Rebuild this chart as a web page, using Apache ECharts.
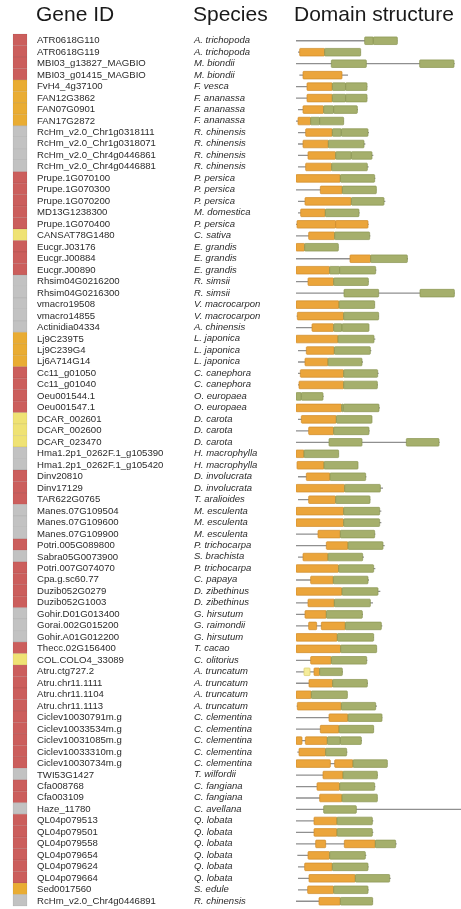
<!DOCTYPE html>
<html>
<head>
<meta charset="utf-8">
<script src="https://cdn.jsdelivr.net/npm/echarts@6/dist/echarts.min.js"></script>
<style>
  html, body { margin: 0; padding: 0; background: #fff; }
  #chart { width: 461px; height: 909px; }
</style>
</head>
<body>
<div id="chart"></div>
<script>
// Gene identifiers, top to bottom
const geneIds = [
  'ATR0618G110', 'ATR0618G119', 'MBI03_g13827_MAGBIO', 'MBI03_g01415_MAGBIO',
  'FvH4_4g37100', 'FAN12G3862', 'FAN07G0901', 'FAN17G2872',
  'RcHm_v2.0_Chr1g0318111', 'RcHm_v2.0_Chr1g0318071', 'RcHm_v2.0_Chr4g0446861', 'RcHm_v2.0_Chr4g0446881',
  'Prupe.1G070100', 'Prupe.1G070300', 'Prupe.1G070200', 'MD13G1238300', 'Prupe.1G070400',
  'CANSAT78G1480', 'Eucgr.J03176', 'Eucgr.J00884', 'Eucgr.J00890',
  'Rhsim04G0216200', 'Rhsim04G0216300', 'vmacro19508', 'vmacro14855', 'Actinidia04334',
  'Lj9C239T5', 'Lj9C239G4', 'Lj6A714G14', 'Cc11_g01050', 'Cc11_g01040',
  'Oeu001544.1', 'Oeu001547.1', 'DCAR_002601', 'DCAR_002600', 'DCAR_023470',
  'Hma1.2p1_0262F.1_g105390', 'Hma1.2p1_0262F.1_g105420', 'Dinv20810', 'Dinv17129', 'TAR622G0765',
  'Manes.07G109504', 'Manes.07G109600', 'Manes.07G109900', 'Potri.005G089800', 'Sabra05G0073900',
  'Potri.007G074070', 'Cpa.g.sc60.77', 'Duzib052G0279', 'Duzib052G1003',
  'Gohir.D01G013400', 'Gorai.002G015200', 'Gohir.A01G012200', 'Thecc.02G156400', 'COL.COLO4_33089',
  'Atru.ctg727.2', 'Atru.chr11.1111', 'Atru.chr11.1104', 'Atru.chr11.1113',
  'Ciclev10030791m.g', 'Ciclev10033534m.g', 'Ciclev10031085m.g', 'Ciclev10033310m.g', 'Ciclev10030734m.g',
  'TWI53G1427', 'Cfa008768', 'Cfa003109', 'Haze_11780',
  'QL04p079513', 'QL04p079501', 'QL04p079558', 'QL04p079654', 'QL04p079624', 'QL04p079664',
  'Sed0017560', 'RcHm_v2.0_Chr4g0446891'
];

// Species of each gene
const species = [
  'A. trichopoda', 'A. trichopoda', 'M. biondii', 'M. biondii',
  'F. vesca', 'F. ananassa', 'F. ananassa', 'F. ananassa',
  'R. chinensis', 'R. chinensis', 'R. chinensis', 'R. chinensis',
  'P. persica', 'P. persica', 'P. persica', 'M. domestica', 'P. persica',
  'C. sativa', 'E. grandis', 'E. grandis', 'E. grandis',
  'R. simsii', 'R. simsii', 'V. macrocarpon', 'V. macrocarpon', 'A. chinensis',
  'L. japonica', 'L. japonica', 'L. japonica', 'C. canephora', 'C. canephora',
  'O. europaea', 'O. europaea', 'D. carota', 'D. carota', 'D. carota',
  'H. macrophylla', 'H. macrophylla', 'D. involucrata', 'D. involucrata', 'T. aralioides',
  'M. esculenta', 'M. esculenta', 'M. esculenta', 'P. trichocarpa', 'S. brachista',
  'P. trichocarpa', 'C. papaya', 'D. zibethinus', 'D. zibethinus',
  'G. hirsutum', 'G. raimondii', 'G. hirsutum', 'T. cacao', 'C. olitorius',
  'A. truncatum', 'A. truncatum', 'A. truncatum', 'A. truncatum',
  'C. clementina', 'C. clementina', 'C. clementina', 'C. clementina', 'C. clementina',
  'T. wilfordii', 'C. fangiana', 'C. fangiana', 'C. avellana',
  'Q. lobata', 'Q. lobata', 'Q. lobata', 'Q. lobata', 'Q. lobata', 'Q. lobata',
  'S. edule', 'R. chinensis'
];

// Group of each gene (sidebar colour key)
const groups = [
  'R','R','R','R', 'O','O','O','O', 'G','G','G','G',
  'R','R','R','R','R', 'Y', 'R','R','R',
  'G','G','G','G','G', 'O','O','O', 'R','R','R','R',
  'Y','Y','Y', 'G','G', 'R','R','R', 'G','G','G', 'R', 'G',
  'R','R','R','R', 'G','G','G', 'R', 'Y',
  'R','R','R','R', 'R','R','R','R','R', 'G', 'R','R', 'G',
  'R','R','R','R','R','R', 'O', 'G'
];

// Protein extent (backbone) for each gene, in residue-scale units
const backbone = [
  [0,304],[6,194],[0,476],[10,156],[0,214],[0,214],[6,186],[0,143],
  [6,219],[6,208],[6,232],[6,218],[0,238],[0,241],[6,268],[6,191],[0,218],
  [0,223],[0,127],[0,336],[0,241],[0,218],[0,476],[0,236],[2,249],[0,219],
  [0,238],[6,226],[6,201],[6,248],[6,246],[0,83],[0,252],[6,228],[0,221],[0,431],
  [0,128],[3,186],[6,211],[0,261],[6,223],[0,256],[0,256],[0,238],[0,266],[6,204],
  [0,238],[0,219],[0,253],[0,231],[0,201],[0,259],[0,233],[0,242],[0,214],
  [0,141],[0,216],[0,154],[2,243],[0,259],[0,234],[0,198],[4,154],[0,274],
  [0,246],[0,238],[0,244],[0,495],[0,232],[0,232],[0,302],[4,211],[6,218],[6,284],
  [6,218],[0,231]
];

// Domain segments per gene: [start, end, kind]; N = N-terminal domain, C = C-terminal domain, Y = extra motif
const domains = [
  [[206,232,'C'],[232,304,'C']],
  [[11,86,'N'],[86,194,'C']],
  [[106,211,'C'],[371,474,'C']],
  [[21,138,'N']],
  [[33,109,'N'],[109,149,'C'],[149,213,'C']],
  [[33,109,'N'],[109,149,'C'],[149,213,'C']],
  [[21,83,'N'],[83,113,'C'],[113,184,'C']],
  [[6,44,'N'],[44,71,'C'],[71,143,'C']],
  [[29,109,'N'],[109,136,'C'],[136,216,'C']],
  [[21,97,'N'],[97,204,'C']],
  [[36,119,'N'],[119,166,'C'],[166,228,'C']],
  [[29,107,'N'],[107,214,'C']],
  [[0,133,'N'],[133,236,'C']],
  [[73,139,'N'],[139,241,'C']],
  [[27,166,'N'],[166,264,'C']],
  [[14,88,'N'],[88,189,'C']],
  [[3,119,'N'],[119,216,'N']],
  [[38,116,'N'],[116,221,'C']],
  [[0,26,'N'],[26,127,'C']],
  [[162,224,'N'],[224,334,'C']],
  [[0,101,'N'],[101,131,'C'],[131,239,'C']],
  [[36,113,'N'],[113,217,'C']],
  [[144,248,'C'],[372,475,'C']],
  [[0,129,'N'],[129,236,'C']],
  [[4,143,'N'],[143,248,'C']],
  [[48,113,'N'],[113,138,'C'],[138,219,'C']],
  [[0,126,'N'],[126,234,'C']],
  [[31,115,'N'],[115,223,'C']],
  [[27,96,'N'],[96,198,'C']],
  [[13,143,'N'],[143,245,'C']],
  [[9,143,'N'],[143,244,'C']],
  [[0,16,'C'],[16,81,'C']],
  [[0,137,'N'],[137,142,'C'],[142,249,'C']],
  [[16,121,'N'],[121,228,'C']],
  [[38,113,'N'],[113,219,'C']],
  [[99,198,'C'],[331,429,'C']],
  [[0,24,'N'],[24,128,'C']],
  [[3,84,'N'],[84,186,'C']],
  [[31,102,'N'],[102,209,'C']],
  [[0,146,'N'],[146,253,'C']],
  [[38,119,'N'],[119,222,'C']],
  [[0,143,'N'],[143,251,'C']],
  [[0,143,'N'],[143,251,'C']],
  [[66,133,'N'],[133,236,'C']],
  [[91,156,'N'],[156,261,'C']],
  [[21,96,'N'],[96,200,'C']],
  [[0,128,'N'],[128,233,'C']],
  [[44,112,'N'],[112,216,'C']],
  [[0,138,'N'],[138,246,'C']],
  [[36,115,'N'],[115,223,'C']],
  [[27,91,'N'],[91,199,'C']],
  [[38,62,'N'],[76,148,'N'],[148,256,'C']],
  [[0,124,'N'],[124,233,'C']],
  [[0,134,'N'],[134,242,'C']],
  [[44,106,'N'],[106,212,'C']],
  [[24,42,'Y'],[54,71,'N'],[71,139,'C']],
  [[39,110,'N'],[110,214,'C']],
  [[0,46,'N'],[46,154,'C']],
  [[4,136,'N'],[136,239,'C']],
  [[99,156,'N'],[156,258,'C']],
  [[73,129,'N'],[129,233,'C']],
  [[0,18,'N'],[28,94,'N'],[94,133,'C'],[133,196,'C']],
  [[9,89,'N'],[89,152,'C']],
  [[0,103,'N'],[116,171,'N'],[171,274,'C']],
  [[81,141,'N'],[141,244,'C']],
  [[63,131,'N'],[131,236,'C']],
  [[71,138,'N'],[138,244,'C']],
  [[83,181,'C']],
  [[54,123,'N'],[123,229,'C']],
  [[54,123,'N'],[123,229,'C']],
  [[59,89,'N'],[145,238,'N'],[238,299,'C']],
  [[36,101,'N'],[101,208,'C']],
  [[26,109,'N'],[109,216,'C']],
  [[39,178,'N'],[178,281,'C']],
  [[35,113,'N'],[113,216,'C']],
  [[69,133,'N'],[133,230,'C']]
];

const groupColors = { R: '#CB5E5C', O: '#E9AC33', G: '#C2C2C2', Y: '#EFE274' };
const domainFill = { N: '#EBA53B', C: '#A5AF6C', Y: '#F5EC9A' };
const domainStroke = { N: '#CF8B2A', C: '#8A9552', Y: '#D9CC6A' };

const FONT = '"Liberation Sans", Arial, Helvetica, sans-serif';
const rowIndex = geneIds.map((_, i) => i);

const chart = echarts.init(document.getElementById('chart'), null, { renderer: 'canvas' });

chart.setOption({
  animation: false,
  backgroundColor: '#ffffff',
  graphic: [
    { type: 'text', left: 36, top: 5, style: { text: 'Gene ID', font: '21px ' + FONT, fill: '#1a1a1a' } },
    { type: 'text', left: 193, top: 5, style: { text: 'Species', font: '21px ' + FONT, fill: '#1a1a1a' } },
    { type: 'text', left: 294, top: 5, style: { text: 'Domain structure', font: '21px ' + FONT, fill: '#1a1a1a' } }
  ],
  grid: { left: 296, width: 165, top: 34, height: 872 },
  xAxis: { type: 'value', min: 0, max: 495, show: false },
  yAxis: { type: 'category', data: geneIds, inverse: true, show: false },
  series: [
    {
      // sidebar group cell + gene ID + species text for each row
      type: 'custom',
      clip: false,
      data: rowIndex.map(i => [0, i]),
      encode: { x: 0, y: 1 },
      renderItem: function (params, api) {
        const i = params.dataIndex;
        const c = api.coord([0, i]);
        const h = api.size([0, 1])[1];
        const y0 = c[1] - h / 2;
        return {
          type: 'group',
          children: [
            {
              type: 'rect',
              shape: { x: 13, y: y0, width: 14, height: h },
              style: { fill: groupColors[groups[i]], stroke: 'rgba(0,0,0,0.10)', lineWidth: 0.6 }
            },
            {
              type: 'text',
              style: {
                x: 37, y: c[1] + 0.8, text: geneIds[i],
                font: '9.6px ' + FONT, fill: '#2b2b2b',
                verticalAlign: 'middle', align: 'left'
              }
            },
            {
              type: 'text',
              style: {
                x: 194, y: c[1] + 0.8, text: species[i],
                font: 'italic 9.5px ' + FONT, fill: '#2b2b2b',
                verticalAlign: 'middle', align: 'left'
              }
            }
          ]
        };
      }
    },
    {
      // protein backbone line and domain boxes
      type: 'custom',
      clip: true,
      data: rowIndex.map(i => [backbone[i][0], i, backbone[i][1]]),
      encode: { x: [0, 2], y: 1 },
      renderItem: function (params, api) {
        const i = params.dataIndex;
        const a = api.coord([backbone[i][0], i]);
        const b = api.coord([backbone[i][1], i]);
        const yc = a[1] + 1;
        const bh = 7.6;
        const children = [{
          type: 'line',
          shape: { x1: a[0], y1: yc, x2: b[0], y2: yc },
          style: { stroke: '#8f8f8f', lineWidth: 1.3 }
        }];
        domains[i].forEach(function (d) {
          const p0 = api.coord([d[0], i]);
          const p1 = api.coord([d[1], i]);
          children.push({
            type: 'rect',
            shape: { x: p0[0], y: yc - bh / 2, width: p1[0] - p0[0], height: bh, r: 0.8 },
            style: { fill: domainFill[d[2]], stroke: domainStroke[d[2]], lineWidth: 0.7 }
          });
        });
        return { type: 'group', children: children };
      }
    }
  ]
});
</script>
</body>
</html>
